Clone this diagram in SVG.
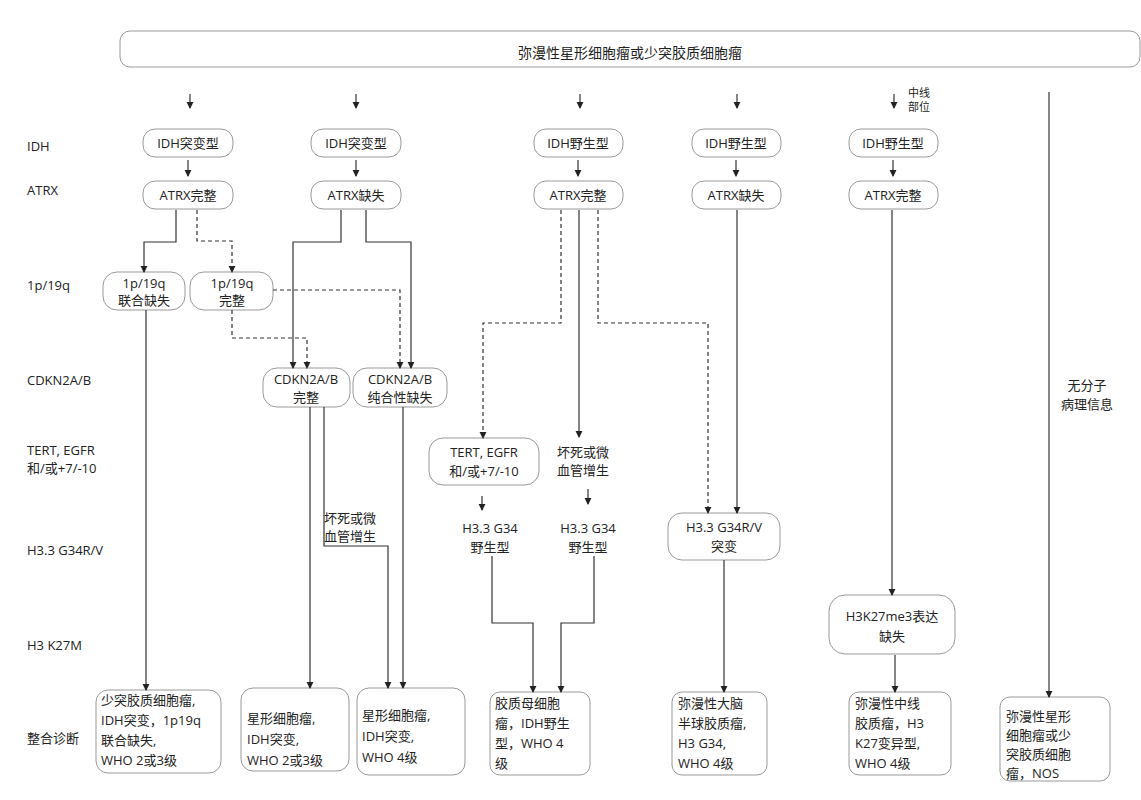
<svg xmlns="http://www.w3.org/2000/svg" width="1141" height="800" viewBox="0 0 1141 800">
<defs>
<marker id="a" viewBox="0 0 8 8" refX="7" refY="4" markerWidth="6" markerHeight="6" orient="auto"><path d="M0,0 L8,4 L0,8 z" fill="#222"/></marker>
<style>
text{font-family:"Open Sans","Noto Sans CJK SC",sans-serif;font-size:13px;fill:#222}
.c{text-anchor:middle}
.b{fill:#fff;stroke:#999;stroke-width:1}
.l{fill:none;stroke:#333;stroke-width:1.2;marker-end:url(#a)}
.d{fill:none;stroke:#333;stroke-width:1.2;stroke-dasharray:4 3;marker-end:url(#a)}
.n{fill:none;stroke:#333;stroke-width:1.2}
</style>
</defs>
<rect width="1141" height="800" fill="#fff"/>
<g id="top"><rect class="b" x="120" y="31" width="1020" height="36" rx="10"/><text class="c" x="630" y="58" style="font-size:14px">弥漫性星形细胞瘤或少突胶质细胞瘤</text></g>
<g id="rowlabels">
<text x="27" y="151">IDH</text><text x="27" y="195">ATRX</text><text x="27" y="290">1p/19q</text><text x="27" y="385">CDKN2A/B</text>
<text x="27" y="455">TERT, EGFR</text><text x="27" y="473">和/或+7/-10</text><text x="27" y="555">H3.3 G34R/V</text><text x="27" y="650">H3 K27M</text><text x="27" y="743">整合诊断</text>
</g>
<g id="idh1"><rect class="b" x="143" y="129" width="90" height="28" rx="12"/><text class="c" x="188" y="148">IDH突变型</text></g>
<g id="idh2"><rect class="b" x="311" y="129" width="90" height="28" rx="12"/><text class="c" x="356" y="148">IDH突变型</text></g>
<g id="idh3"><rect class="b" x="534" y="129" width="89" height="28" rx="12"/><text class="c" x="578" y="148">IDH野生型</text></g>
<g id="idh4"><rect class="b" x="692" y="129" width="89" height="28" rx="12"/><text class="c" x="736" y="148">IDH野生型</text></g>
<g id="idh5"><rect class="b" x="849" y="129" width="89" height="28" rx="12"/><text class="c" x="893" y="148">IDH野生型</text></g>
<g id="atrx1"><rect class="b" x="143" y="181" width="90" height="28" rx="12"/><text class="c" x="188" y="200">ATRX完整</text></g>
<g id="atrx2"><rect class="b" x="311" y="181" width="90" height="28" rx="12"/><text class="c" x="356" y="200">ATRX缺失</text></g>
<g id="atrx3"><rect class="b" x="534" y="181" width="89" height="28" rx="12"/><text class="c" x="578" y="200">ATRX完整</text></g>
<g id="atrx4"><rect class="b" x="692" y="181" width="89" height="28" rx="12"/><text class="c" x="736" y="200">ATRX缺失</text></g>
<g id="atrx5"><rect class="b" x="849" y="181" width="89" height="28" rx="12"/><text class="c" x="893" y="200">ATRX完整</text></g>
<g id="p19a"><rect class="b" x="103" y="272" width="82" height="38" rx="14"/><text class="c" x="144" y="288">1p/19q</text><text class="c" x="144" y="305">联合缺失</text></g>
<g id="p19b"><rect class="b" x="190" y="272" width="83" height="38" rx="14"/><text class="c" x="232" y="288">1p/19q</text><text class="c" x="232" y="305">完整</text></g>
<g id="cdkn1"><rect class="b" x="263" y="368" width="87" height="39" rx="14"/><text class="c" x="306" y="384">CDKN2A/B</text><text class="c" x="306" y="402">完整</text></g>
<g id="cdkn2"><rect class="b" x="353" y="368" width="94" height="39" rx="14"/><text class="c" x="400" y="384">CDKN2A/B</text><text class="c" x="400" y="402">纯合性缺失</text></g>
<g id="tert"><rect class="b" x="429" y="438" width="110" height="47" rx="14"/><text class="c" x="484" y="457">TERT, EGFR</text><text class="c" x="484" y="476">和/或+7/-10</text></g>
<g id="necro3"><text class="c" x="583" y="457">坏死或微</text><text class="c" x="583" y="475">血管增生</text></g>
<g id="necro2"><text x="324" y="523">坏死或微</text><text x="324" y="541">血管增生</text></g>
<g id="g34wt1"><text class="c" x="490" y="533">H3.3 G34</text><text class="c" x="490" y="552">野生型</text></g>
<g id="g34wt2"><text class="c" x="588" y="533">H3.3 G34</text><text class="c" x="588" y="552">野生型</text></g>
<g id="g34mut"><rect class="b" x="668" y="513" width="112" height="47" rx="14"/><text class="c" x="724" y="532">H3.3 G34R/V</text><text class="c" x="724" y="551">突变</text></g>
<g id="k27"><rect class="b" x="829" y="595" width="126" height="59" rx="16"/><text class="c" x="892" y="621">H3K27me3表达</text><text class="c" x="892" y="641">缺失</text></g>
<g id="mid"><text x="908" y="97" style="font-size:11px">中线</text><text x="908" y="111" style="font-size:11px">部位</text></g>
<g id="nomol"><text class="c" x="1087" y="390">无分子</text><text class="c" x="1087" y="409">病理信息</text></g>
<g id="dx1"><rect class="b" x="96" y="690" width="125" height="83" rx="12"/><text x="101" y="705">少突胶质细胞瘤,</text><text x="101" y="725">IDH突变，1p19q</text><text x="101" y="745">联合缺失,</text><text x="101" y="765">WHO 2或3级</text></g>
<g id="dx2"><rect class="b" x="241" y="688" width="108" height="83" rx="12"/><text x="247" y="723">星形细胞瘤,</text><text x="247" y="744">IDH突变,</text><text x="247" y="765">WHO 2或3级</text></g>
<g id="dx3"><rect class="b" x="357" y="688" width="108" height="87" rx="12"/><text x="362" y="720">星形细胞瘤,</text><text x="362" y="741">IDH突变,</text><text x="362" y="762">WHO 4级</text></g>
<g id="dx4"><rect class="b" x="490" y="692" width="100" height="83" rx="10"/><text x="495" y="708">胶质母细胞</text><text x="495" y="728">瘤，IDH野生</text><text x="495" y="748">型，WHO 4</text><text x="495" y="768">级</text></g>
<g id="dx5"><rect class="b" x="672" y="692" width="95" height="83" rx="10"/><text x="678" y="708">弥漫性大脑</text><text x="678" y="728">半球胶质瘤,</text><text x="678" y="748">H3 G34,</text><text x="678" y="768">WHO 4级</text></g>
<g id="dx6"><rect class="b" x="849" y="692" width="102" height="83" rx="10"/><text x="855" y="708">弥漫性中线</text><text x="855" y="728">胶质瘤，H3</text><text x="855" y="748">K27变异型,</text><text x="855" y="768">WHO 4级</text></g>
<g id="dx7"><rect class="b" x="1000" y="697" width="110" height="84" rx="10"/><text x="1006" y="721">弥漫性星形</text><text x="1006" y="740">细胞瘤或少</text><text x="1006" y="759">突胶质细胞</text><text x="1006" y="778">瘤，NOS</text></g>
<g id="connectors">
<path class="l" d="M190,94 V108"/><path class="l" d="M356,94 V108"/><path class="l" d="M580,94 V108"/><path class="l" d="M737,94 V108"/><path class="l" d="M894,94 V108"/>
<path class="l" d="M188,160 V176"/><path class="l" d="M356,160 V176"/><path class="l" d="M578,160 V176"/><path class="l" d="M736,160 V176"/><path class="l" d="M893,160 V176"/>
<path class="l" d="M176,210 V242 H144 V272"/><path class="d" d="M197,210 V241 H232 V272"/>
<path class="l" d="M341,210 V242 H293 V368"/><path class="l" d="M366,210 V242 H411 V368"/>
<path class="d" d="M232,310 V338 H307 V368"/><path class="d" d="M273,290 H400 V368"/>
<path class="l" d="M146,310 V690"/>
<path class="l" d="M310,407 V688"/><path class="l" d="M324,407 V546 H388 V688"/><path class="l" d="M403,407 V688"/>
<path class="d" d="M561,210 V323 H483 V438"/><path class="l" d="M579,210 V437"/><path class="d" d="M598,210 V323 H708 V513"/>
<path class="l" d="M737,210 V513"/>
<path class="l" d="M482,496 V510"/><path class="l" d="M588,489 V504"/>
<path class="l" d="M492,556 V623 H533 V692"/><path class="l" d="M594,556 V623 H561 V692"/>
<path class="l" d="M724,560 V692"/>
<path class="l" d="M892,210 V595"/><path class="l" d="M895,655 V692"/>
<path class="l" d="M1049,92 V697"/>
</g>
</svg>
